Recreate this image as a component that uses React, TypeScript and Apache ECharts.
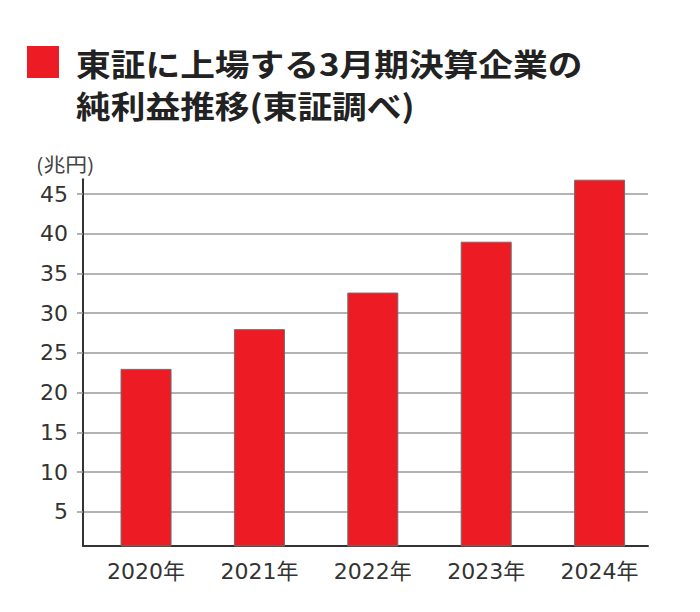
import React, { useEffect, useRef } from "react";
import * as echarts from "echarts";

const years = ["2020年", "2021年", "2022年", "2023年", "2024年"];
const profits = [23.0, 28.0, 32.6, 39.0, 46.8];
const yTicks = [5, 10, 15, 20, 25, 30, 35, 40, 45];
const titleLine1 = "東証に上場する3月期決算企業の";
const titleLine2 = "純利益推移(東証調べ)";
const unitLabel = "(兆円)";

const NUM_FONT = "'DejaVu Sans', 'Noto Sans CJK JP', sans-serif";
const CJK_FONT = "'Noto Sans CJK JP', sans-serif";

export default function App() {
  const ref = useRef<HTMLDivElement>(null);

  useEffect(() => {
    if (!ref.current) return;
    const chart = echarts.init(ref.current, undefined, { renderer: "svg" });
    const option = {
      animation: false,
      backgroundColor: "#ffffff",
      grid: { left: 83, right: 52, top: 179.3, bottom: 66, containLabel: false },
      xAxis: {
        type: "value",
        min: -0.556,
        max: 4.427,
        axisLine: { show: true, onZero: false, lineStyle: { color: "#333333", width: 2 } },
        axisTick: { show: false },
        splitLine: { show: false },
        axisLabel: {
          customValues: [0, 1, 2, 3, 4],
          formatter: (v: number) => years[Math.round(v)] ?? "",
          fontSize: 22,
          color: "#333333",
          fontFamily: NUM_FONT,
          margin: 14,
        },
      },
      yAxis: {
        type: "value",
        min: 0.72,
        max: 46.85,
        axisLine: { show: true, onZero: false, lineStyle: { color: "#333333", width: 2 } },
        axisTick: {
          show: true,
          length: 6,
          customValues: yTicks,
          lineStyle: { color: "#999999", width: 1.5 },
        },
        splitLine: { show: true, lineStyle: { color: "#9a9a9a", width: 1.5 } },
        axisLabel: {
          customValues: yTicks,
          fontSize: 22,
          color: "#333333",
          fontFamily: NUM_FONT,
          margin: 15,
        },
      },
      series: [
        {
          type: "bar",
          data: profits.map((v, i) => [i, v]),
          barWidth: 51,
          clip: true,
          itemStyle: { color: "#ED1C24", borderColor: "#6e6e6e", borderWidth: 1 },
        },
      ],
      graphic: [
        {
          type: "rect",
          shape: { x: 27, y: 46, width: 32, height: 32 },
          style: { fill: "#ED1C24" },
        },
        {
          type: "text",
          x: 76,
          y: 62,
          scaleX: 1.12,
          style: {
            text: titleLine1,
            fontSize: 31,
            fontWeight: "bold",
            fontFamily: CJK_FONT,
            fill: "#222222",
            verticalAlign: "middle",
            align: "left",
          },
        },
        {
          type: "text",
          x: 76,
          y: 104,
          scaleX: 1.12,
          style: {
            text: titleLine2,
            fontSize: 31,
            fontWeight: "bold",
            fontFamily: CJK_FONT,
            fill: "#222222",
            verticalAlign: "middle",
            align: "left",
          },
        },
        {
          type: "text",
          x: 36,
          y: 163.5,
          scaleX: 1.15,
          style: {
            text: unitLabel,
            fontSize: 19,
            fontFamily: CJK_FONT,
            fill: "#444444",
            verticalAlign: "middle",
            align: "left",
          },
        },
      ],
    };
    chart.setOption(option as any);
    return () => chart.dispose();
  }, []);

  return (
    <div
      ref={ref}
      style={{ position: "fixed", left: 0, top: 0, width: 700, height: 612, background: "#fff" }}
    />
  );
}
